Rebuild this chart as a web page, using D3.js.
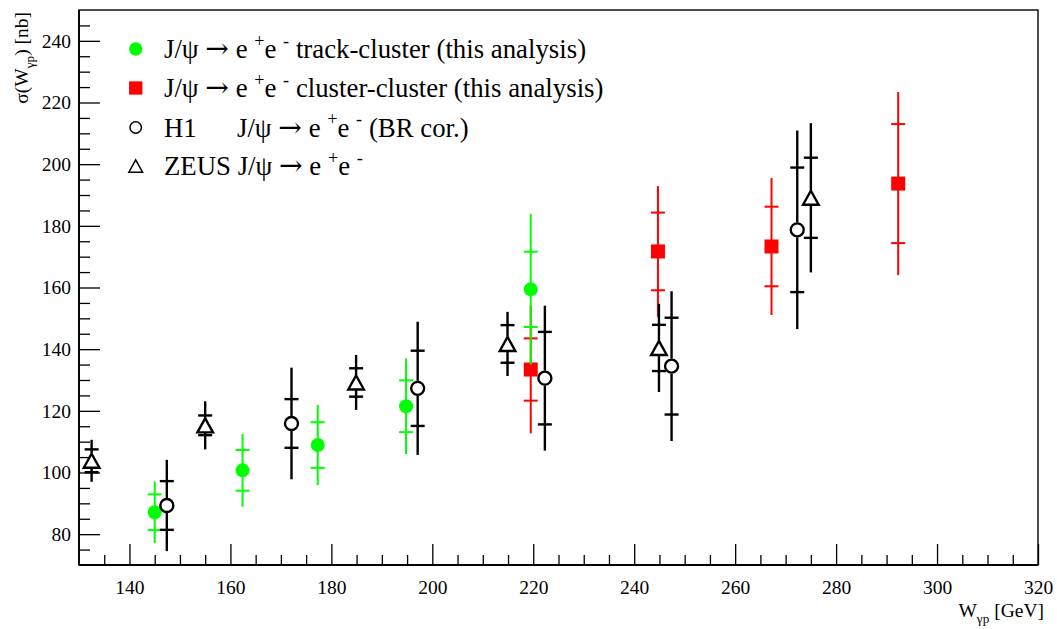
<!DOCTYPE html>
<html>
<head>
<meta charset="utf-8">
<script src="https://cdn.jsdelivr.net/npm/d3@7"></script>
<style>
  html, body { margin: 0; padding: 0; background: #fff; }
  svg { display: block; }
  text { font-family: "Liberation Serif", "Times New Roman", serif; fill: #000; }
</style>
</head>
<body>
<svg id="chart" width="1057" height="629"></svg>
<script>
// J/psi photoproduction cross section versus W_gamma-p
// Each point: central value, statistical error (ticks) and total error (full line)

const trackW     = [145.0, 162.4, 177.3, 194.8, 219.5];
const trackSigma = [87.1, 100.7, 108.9, 121.5, 159.4];
const trackStat  = [5.8, 6.6, 7.4, 8.4, 12.2];
const trackTot   = [10.0, 11.8, 13.0, 15.5, 24.4];

const clusterW     = [219.5, 244.7, 267.2, 292.3];
const clusterSigma = [133.4, 171.7, 173.3, 193.7];
const clusterStat  = [10.1, 12.6, 12.9, 19.3];
const clusterTot   = [20.7, 21.2, 22.2, 29.7];

const h1W     = [147.4, 172.1, 197.1, 222.3, 247.4, 272.3];
const h1Sigma = [89.3, 115.9, 127.3, 130.6, 134.5, 178.7];
const h1Stat  = [7.9, 7.9, 12.2, 15.0, 15.7, 20.2];
const h1Tot   = [14.8, 18.1, 21.6, 23.5, 24.3, 32.2];

const zeusW     = [132.5, 155.0, 184.9, 214.9, 244.9, 275.0];
const zeusSigma = [103.8, 115.3, 129.2, 141.7, 140.4, 189.1];
const zeusStat  = [3.7, 3.2, 4.6, 6.1, 7.5, 13.0];
const zeusTot   = [6.8, 7.8, 8.9, 10.4, 14.3, 24.2];

const xDomain = [130, 320];
const yDomain = [70, 250];
const xMajorTicks = d3.range(140, 321, 20);
const xMinorTicks = d3.range(135, 320, 5).filter(v => v % 20 !== 0);
const yMajorTicks = d3.range(80, 241, 20);
const yMinorTicks = d3.range(75, 250, 5).filter(v => v % 20 !== 0);

const decay = [["→", "arrow"], [" e "], ["+", "sup"], ["e "], ["-", "sup"]];
const legendEntries = [
  { key: "track",   label: [["J/ψ "], ...decay, [" track-cluster (this analysis)"]] },
  { key: "cluster", label: [["J/ψ "], ...decay, [" cluster-cluster (this analysis)"]] },
  { key: "h1",      label: [["H1"], ["J/ψ ", "col2"], ...decay, [" (BR cor.)"]] },
  { key: "zeus",    label: [["ZEUS J/ψ "], ...decay] }
];

const svg = d3.select("#chart");
const plotL = 79, plotR = 1038, plotT = 10, plotB = 565;
const x = d3.scaleLinear().domain(xDomain).range([plotL, plotR]);
const y = d3.scaleLinear().domain(yDomain).range([plotB, plotT]);

const FS = 19.5;      // axis text
const LFS = 26.8;     // legend text

// frame
svg.append("rect")
  .attr("x", plotL).attr("y", plotT)
  .attr("width", plotR - plotL).attr("height", plotB - plotT)
  .attr("fill", "none").attr("stroke", "#000").attr("stroke-width", 1.4);

// axes: major ticks with labels, minor ticks without
function styleAxis(g) {
  g.select(".domain").remove();
  g.selectAll(".tick line").attr("stroke", "#000").attr("stroke-width", 1.3);
  g.selectAll(".tick text").attr("font-size", FS).attr("font-family", "Liberation Serif, serif").attr("fill", "#000");
}
const xAxisG = svg.append("g").attr("transform", `translate(0,${plotB})`)
  .call(d3.axisBottom(x).tickValues(xMajorTicks).tickSizeInner(-21).tickSizeOuter(0).tickPadding(15).tickFormat(d3.format("d")));
styleAxis(xAxisG);
const xMinorG = svg.append("g").attr("transform", `translate(0,${plotB})`)
  .call(d3.axisBottom(x).tickValues(xMinorTicks).tickSizeInner(-10).tickSizeOuter(0).tickFormat(""));
styleAxis(xMinorG);

const yAxisG = svg.append("g").attr("transform", `translate(${plotL},0)`)
  .call(d3.axisLeft(y).tickValues(yMajorTicks).tickSizeInner(-21).tickSizeOuter(0).tickPadding(8).tickFormat(d3.format("d")));
styleAxis(yAxisG);
const yMinorG = svg.append("g").attr("transform", `translate(${plotL},0)`)
  .call(d3.axisLeft(y).tickValues(yMinorTicks).tickSizeInner(-11).tickSizeOuter(0).tickFormat(""));
styleAxis(yMinorG);

// thicker left and bottom axis lines
svg.append("line").attr("x1", plotL).attr("x2", plotR).attr("y1", plotB).attr("y2", plotB)
  .attr("stroke", "#000").attr("stroke-width", 1.8);
svg.append("line").attr("x1", plotL).attr("x2", plotL).attr("y1", plotT).attr("y2", plotB)
  .attr("stroke", "#000").attr("stroke-width", 1.8);

// text helper with sub/superscripts; each tspan carries its own baseline offset
function richText(sel, parts, size, col2x) {
  let shift = 0;
  parts.forEach(([t, kind]) => {
    let target = 0, fs = size;
    if (kind === "sup") { target = -size * 0.42; fs = size * 0.68; }
    else if (kind === "sub") { target = size * 0.3; fs = size * 0.68; }
    const ts = sel.append("tspan").text(t).attr("font-size", fs).attr("dy", target - shift);
    if (kind === "arrow") ts.attr("font-family", "DejaVu Serif, serif").attr("font-size", size * 1.05);
    if (kind === "col2") ts.attr("x", col2x);
    shift = target;
  });
}

// axis titles
const xt = svg.append("text").attr("x", 1044).attr("y", 617)
  .attr("text-anchor", "end").attr("font-size", FS);
richText(xt, [["W"], ["γp", "sub"], [" [GeV]"]], FS);

const yt = svg.append("text").attr("transform", "translate(28,12) rotate(-90)")
  .attr("text-anchor", "end").attr("font-size", FS);
richText(yt, [["σ(W"], ["γp", "sub"], [") [nb]"]], FS);

// marker shapes
const GREEN = "#00ff00", RED = "#ff0000";
const markerStyles = {
  track:   { color: GREEN, barWidth: 2.0, gap: 0 },
  cluster: { color: RED,   barWidth: 2.0, gap: 0 },
  h1:      { color: "#000", barWidth: 2.4, gap: 7.5 },
  zeus:    { color: "#000", barWidth: 2.4, gap: 7.5 }
};

function drawMarker(g, key, cx, cy, scale) {
  const s = scale || 1;
  const thin = s < 1;
  if (key === "track") {
    g.append("circle").attr("cx", cx).attr("cy", cy).attr("r", 7 * s).attr("fill", GREEN);
  } else if (key === "cluster") {
    const a = 14 * s;
    g.append("rect").attr("x", cx - a / 2).attr("y", cy - a / 2).attr("width", a).attr("height", a).attr("fill", RED);
  } else if (key === "h1") {
    g.append("circle").attr("cx", cx).attr("cy", cy).attr("r", 6.5 * s)
      .attr("fill", "none").attr("stroke", "#000").attr("stroke-width", thin ? 1.5 : 2.4);
  } else if (key === "zeus") {
    const hw = 7.8 * s, hh = 7 * s;
    g.append("path").attr("d", `M${cx},${cy - hh}L${cx + hw},${cy + hh}L${cx - hw},${cy + hh}Z`)
      .attr("fill", "none").attr("stroke", "#000").attr("stroke-width", thin ? 1.5 : 2.4)
      .attr("stroke-linejoin", "miter");
  }
}

function drawSeries(key, ws, vals, stats, tots) {
  const st = markerStyles[key];
  const g = svg.append("g").attr("class", "series-" + key);
  ws.forEach((w, i) => {
    const cx = x(w), cy = y(vals[i]);
    const yTop = y(vals[i] + tots[i]), yBot = y(vals[i] - tots[i]);
    const sTop = y(vals[i] + stats[i]), sBot = y(vals[i] - stats[i]);
    // vertical total error line, broken around open markers
    if (st.gap > 0) {
      g.append("line").attr("x1", cx).attr("x2", cx).attr("y1", yTop).attr("y2", cy - st.gap)
        .attr("stroke", st.color).attr("stroke-width", st.barWidth);
      g.append("line").attr("x1", cx).attr("x2", cx).attr("y1", cy + st.gap).attr("y2", yBot)
        .attr("stroke", st.color).attr("stroke-width", st.barWidth);
    } else {
      g.append("line").attr("x1", cx).attr("x2", cx).attr("y1", yTop).attr("y2", yBot)
        .attr("stroke", st.color).attr("stroke-width", st.barWidth);
    }
    // statistical error ticks
    [sTop, sBot].forEach(yy => {
      g.append("line").attr("x1", cx - 7).attr("x2", cx + 7).attr("y1", yy).attr("y2", yy)
        .attr("stroke", st.color).attr("stroke-width", st.barWidth);
    });
    drawMarker(g, key, cx, cy, 1);
  });
}

drawSeries("cluster", clusterW, clusterSigma, clusterStat, clusterTot);
drawSeries("track", trackW, trackSigma, trackStat, trackTot);
drawSeries("h1", h1W, h1Sigma, h1Stat, h1Tot);
drawSeries("zeus", zeusW, zeusSigma, zeusStat, zeusTot);

// legend
const lg = svg.append("g").attr("class", "legend");
const legendRowY = [49, 88, 127.5, 166];
legendEntries.forEach((e, i) => {
  const cy = legendRowY[i];
  drawMarker(lg, e.key, 135.7, cy, (e.key === "h1" || e.key === "zeus") ? 0.88 : 0.95);
  const t = lg.append("text").attr("x", 164).attr("y", cy + 9).attr("font-size", LFS);
  richText(t, e.label, LFS, 237);
});
</script>
</body>
</html>
